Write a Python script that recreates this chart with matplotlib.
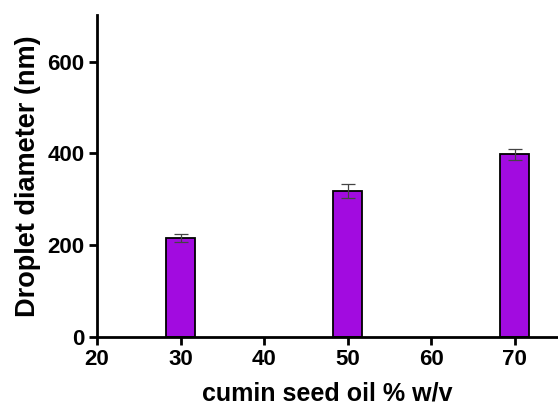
import matplotlib
matplotlib.use('Agg')
import matplotlib.pyplot as plt

# cumin seed oil concentration (% w/v) vs droplet diameter
oil_pct = [30, 50, 70]
diameter = [215, 319, 398]
diameter_err = [9, 15, 12]

plt.rcParams['font.family'] = ['Liberation Sans', 'DejaVu Sans']
plt.rcParams['font.weight'] = 'bold'

fig = plt.figure(figsize=(5.58, 4.05), dpi=100)
ax = fig.add_axes([0.174, 0.168, 0.826, 0.795])

ax.bar(oil_pct, diameter, width=3.5, color='#A20BE0', edgecolor='black',
       linewidth=1.3, zorder=2)
ax.errorbar(oil_pct, diameter, yerr=diameter_err, fmt='none', ecolor='#444444',
            elinewidth=0.9, capsize=4.8, capthick=0.9, zorder=3)

ax.set_xlim(20, 75.2)
ax.set_ylim(0, 702)
ax.set_xticks([20, 30, 40, 50, 60, 70])
ax.set_yticks([0, 200, 400, 600])

for side in ['top', 'right']:
    ax.spines[side].set_visible(False)
for side in ['left', 'bottom']:
    ax.spines[side].set_linewidth(2)
ax.tick_params(width=2, length=6, labelsize=16, pad=3)

# x label sits low and is clipped by the figure edge, as in the source image
ax.set_xlabel('cumin seed oil % w/v', fontsize=18, fontweight='bold', labelpad=8)
ax.set_ylabel('Droplet diameter (nm)', fontsize=19.5, fontweight='bold', labelpad=5)

fig.savefig('out.png', dpi=100)
plt.close('all')
